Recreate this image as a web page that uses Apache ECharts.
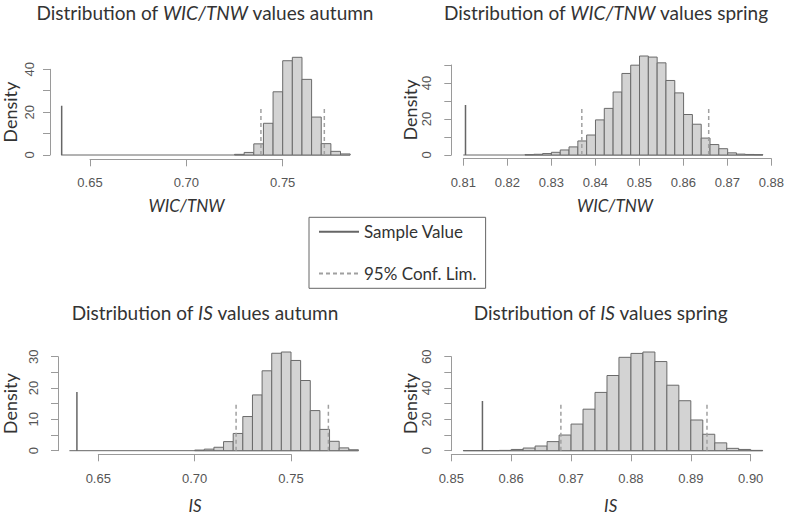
<!DOCTYPE html>
<html><head><meta charset="utf-8">
<script src="https://cdn.jsdelivr.net/npm/echarts@6/dist/echarts.min.js"></script>
<style>html,body{margin:0;padding:0;background:#fff}#c{width:787px;height:515px}</style>
</head><body><div id="c"></div>
<script>
// ---------------- data ----------------
const variableNames = ['WIC/TNW', 'WIC/TNW', 'IS', 'IS'];
const seasons = ['autumn', 'spring', 'autumn', 'spring'];

// histogram: first non-empty bin edge, bin width, densities; empty bins start at zeroFrom
const wicAutumnZeroFrom = 0.635;
const wicAutumnBinStart = 0.725;
const wicAutumnBinWidth = 0.005;
const wicAutumnDensity = [0.3, 1.2, 5.2, 14.8, 29.5, 44.0, 45.6, 35.3, 17.7, 5.3, 1.7, 0.5];

const wicSpringZeroFrom = 0.810;
const wicSpringBinStart = 0.824;
const wicSpringBinWidth = 0.002;
const wicSpringDensity = [0.2, 0.4, 0.8, 1.5, 2.8, 4.5, 7.8, 11.1, 19.5, 25.9, 35.0, 45.3, 49.9, 55.0,
  54.4, 51.2, 41.4, 34.5, 22.5, 17.1, 9.4, 5.8, 3.5, 1.2, 0.5, 0.3, 0.2];

const isAutumnZeroFrom = 0.635;
const isAutumnBinStart = 0.700;
const isAutumnBinWidth = 0.005;
const isAutumnDensity = [0.2, 0.5, 1.1, 2.9, 5.5, 10.9, 17.8, 25.5, 31.1, 31.5, 28.8, 22.4, 12.8, 6.8, 3.0, 0.9, 0.3];

const isSpringZeroFrom = 0.852;
const isSpringBinStart = 0.852;
const isSpringBinWidth = 0.002;
const isSpringDensity = [0.1, 0.1, 0.1, 0.2, 0.8, 1.7, 3.0, 5.8, 10.0, 17.0, 26.5, 37.2, 48.0, 59.6, 62.1, 63.0,
  56.9, 41.8, 31.9, 19.6, 10.5, 5.0, 1.5, 0.8, 0.2];

const sampleValues = [0.6353, 0.8105, 0.6389, 0.8552];
const sampleHeights = [23.0, 27.8, 18.7, 31.7];
const confLower = [0.7387, 0.8369, 0.7215, 0.8683];
const confUpper = [0.7716, 0.8657, 0.7694, 0.8927];
const confHeights = [22.0, 26.0, 14.9, 29.6];

const xTickStart = [0.65, 0.81, 0.65, 0.85];
const xTickEnd = [0.75, 0.88, 0.75, 0.90];
const xTickStep = [0.05, 0.01, 0.05, 0.01];
const yTickEnd = [40, 50, 30, 60];
const yTickStep = [10, 10, 5, 10];
const yLabelStep = [20, 20, 10, 20];

const legendNames = ['Sample Value', '95% Conf. Lim.'];

// ---------------- layout (pixels) ----------------
const hist = [
  [wicAutumnZeroFrom, wicAutumnBinStart, wicAutumnBinWidth, wicAutumnDensity],
  [wicSpringZeroFrom, wicSpringBinStart, wicSpringBinWidth, wicSpringDensity],
  [isAutumnZeroFrom, isAutumnBinStart, isAutumnBinWidth, isAutumnDensity],
  [isSpringZeroFrom, isSpringBinStart, isSpringBinWidth, isSpringDensity]
];
const layout = [
  {left: 49.3, right: 361, xaPx: 90, xbPx: 282.7, y0Px: 155, yTopPx: 69.3, axisY: 159.3, top: 40,
   yLabMargin: 14, nameGap: 31, xLabMargin: 17, title: [205, 12], xlab: [186.5, 205]},
  {left: 451.3, right: 775, xaPx: 463.3, xbPx: 771.7, y0Px: 155, yTopPx: 65, axisY: 158.7, top: 40,
   yLabMargin: 18, nameGap: 31, xLabMargin: 17, title: [606, 12], xlab: [615, 205]},
  {left: 57.3, right: 370, xaPx: 98.3, xbPx: 291, y0Px: 450.7, yTopPx: 356.7, axisY: 454.3, top: 335,
   yLabMargin: 18, nameGap: 39, xLabMargin: 18, title: [205, 312], xlab: [195, 505.7]},
  {left: 451.3, right: 765, xaPx: 451.3, xbPx: 750.7, y0Px: 450.7, yTopPx: 356.7, axisY: 454.3, top: 335,
   yLabMargin: 18, nameGap: 31.6, xLabMargin: 18, title: [600.7, 312], xlab: [610.7, 505.7]}
];

const TEXT_FONT = 'Lato';
const TICK_FONT = 'Liberation Sans';
const AXIS_COLOR = '#9a9a9a';
const SAMPLE_COLOR = '#666666';
const CONF_COLOR = '#a0a0a0';
const grids = [], xAxes = [], yAxes = [], series = [], graphics = [];

layout.forEach((L, i) => {
  const sx = (L.xbPx - L.xaPx) / (xTickEnd[i] - xTickStart[i]);
  const sy = (L.y0Px - L.yTopPx) / yTickEnd[i];
  const xmin = xTickStart[i] - (L.xaPx - L.left) / sx;
  const xmax = xTickStart[i] + (L.right - L.xaPx) / sx;
  const ymin = -(L.axisY - L.y0Px) / sy;
  const ymax = (L.y0Px - L.top) / sy;

  // data grid
  const g = grids.length;
  grids.push({left: L.left, top: L.top, width: L.right - L.left, height: L.axisY - L.top});
  xAxes.push({type: 'value', gridIndex: g, min: xmin, max: xmax, show: false});
  yAxes.push({type: 'value', gridIndex: g, min: ymin, max: ymax, show: false});

  // decorative x axis (spans the ticks only, like R)
  const gx = grids.length;
  grids.push({left: L.xaPx, top: L.axisY - 10, width: L.xbPx - L.xaPx, height: 10});
  xAxes.push({type: 'value', gridIndex: gx, min: xTickStart[i], max: xTickEnd[i], interval: xTickStep[i],
    axisLine: {show: true, lineStyle: {color: AXIS_COLOR, width: 1}},
    axisTick: {show: true, length: 7, lineStyle: {color: AXIS_COLOR, width: 1}},
    splitLine: {show: false},
    axisLabel: {margin: L.xLabMargin, fontSize: 13, fontFamily: TICK_FONT, color: '#555',
      formatter: v => Number(v).toFixed(2)}});
  yAxes.push({type: 'value', gridIndex: gx, show: false});

  // decorative y axis
  const gy = grids.length;
  grids.push({left: L.left, top: L.yTopPx, width: 10, height: L.y0Px - L.yTopPx});
  xAxes.push({type: 'value', gridIndex: gy, show: false});
  yAxes.push({type: 'value', gridIndex: gy, min: 0, max: yTickEnd[i], interval: yTickStep[i],
    axisLine: {show: true, lineStyle: {color: AXIS_COLOR, width: 1}},
    axisTick: {show: true, length: 7, lineStyle: {color: AXIS_COLOR, width: 1}},
    splitLine: {show: false},
    axisLabel: {rotate: 90, margin: L.yLabMargin, fontSize: 13, fontFamily: TICK_FONT, color: '#555',
      formatter: v => (Math.abs(v / yLabelStep[i] - Math.round(v / yLabelStep[i])) < 1e-6 ? String(v) : '')},
    name: 'Density', nameLocation: 'middle', nameRotate: 90, nameGap: L.nameGap,
    nameTextStyle: {fontSize: 18, fontFamily: TEXT_FONT, color: '#333'}});

  // histogram data
  const [zeroFrom, binStart, bw, dens] = hist[i];
  const bins = dens.map((d, k) => [binStart + k * bw, binStart + (k + 1) * bw, d]);
  const binEnd = binStart + dens.length * bw;

  series.push({type: 'line', xAxisIndex: g, yAxisIndex: g, data: [[zeroFrom, 0], [binEnd, 0]],
    symbol: 'none', lineStyle: {color: '#666', width: 1}, silent: true, z: 1});
  series.push({type: 'custom', xAxisIndex: g, yAxisIndex: g, data: bins, clip: false, z: 2,
    renderItem: (params, api) => {
      const p0 = api.coord([api.value(0), api.value(2)]);
      const p1 = api.coord([api.value(1), 0]);
      return {type: 'rect', shape: {x: p0[0], y: p0[1], width: p1[0] - p0[0], height: p1[1] - p0[1]},
        style: {fill: '#d3d3d3', stroke: '#6a6a6a', lineWidth: 1}};
    }});
  series.push({name: legendNames[0], type: 'line', xAxisIndex: g, yAxisIndex: g,
    data: [[sampleValues[i], 0], [sampleValues[i], sampleHeights[i]]],
    symbol: 'none', itemStyle: {color: SAMPLE_COLOR}, lineStyle: {color: SAMPLE_COLOR, width: 1.5}, z: 5});
  [confLower[i], confUpper[i]].forEach(c => {
    series.push({name: legendNames[1], type: 'line', xAxisIndex: g, yAxisIndex: g,
      data: [[c, 0], [c, confHeights[i]]],
      symbol: 'none', itemStyle: {color: CONF_COLOR}, lineStyle: {color: CONF_COLOR, width: 1.5, type: [4, 3]}, z: 5});
  });

  // titles and x labels
  const rich = {
    n: {fontSize: 19, fontFamily: TEXT_FONT, fill: '#333'},
    it: {fontSize: 19, fontFamily: TEXT_FONT, fontStyle: 'italic', fill: '#333'}
  };
  graphics.push({type: 'text', x: L.title[0], y: L.title[1],
    style: {text: '{n|Distribution of }{it|' + variableNames[i] + '}{n| values ' + seasons[i] + '}',
      rich: rich, align: 'center', verticalAlign: 'middle'}});
  graphics.push({type: 'text', x: L.xlab[0], y: L.xlab[1],
    style: {text: variableNames[i], fontSize: 17, fontFamily: TEXT_FONT, fontStyle: 'italic', fill: '#333',
      align: 'center', verticalAlign: 'middle'}});
});

const chart = echarts.init(document.getElementById('c'), null, {renderer: 'svg'});
chart.setOption({
  animation: false,
  backgroundColor: '#fff',
  grid: grids,
  xAxis: xAxes,
  yAxis: yAxes,
  series: series,
  graphic: graphics,
  legend: {
    data: legendNames, orient: 'vertical', left: 309, top: 217.3,
    itemWidth: 40, itemHeight: 14, itemGap: 24.6,
    padding: [6, 9, 6.4, 9], borderColor: '#666', borderWidth: 1,
    itemStyle: {opacity: 0},
    textStyle: {fontSize: 17, fontFamily: TEXT_FONT, color: '#333'},
    selectedMode: false
  }
});
</script></body></html>
